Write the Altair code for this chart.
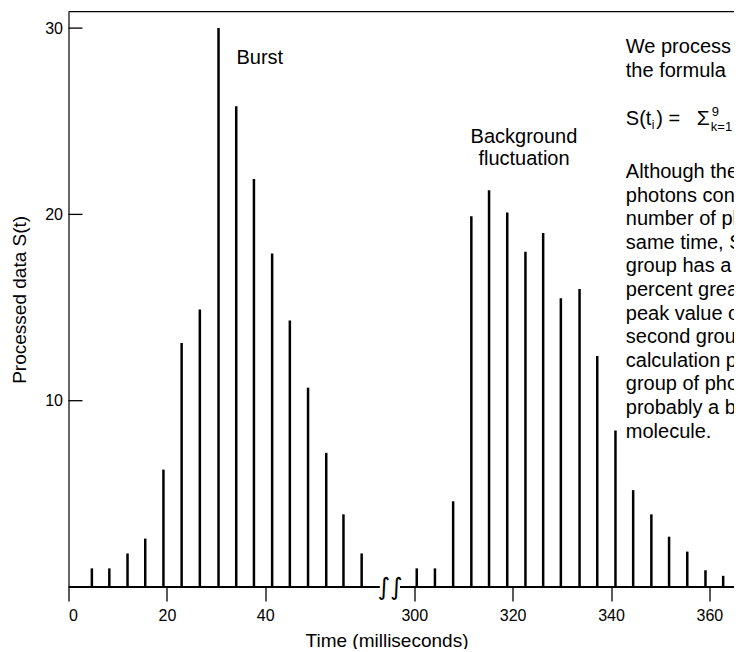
import altair as alt
import pandas as pd

# ---------------- data ----------------
burst_t = [4.75, 8.3, 12.0, 15.6, 19.3, 23.0, 26.7, 30.5, 34.1, 37.7, 41.4, 45.0, 48.7, 52.4, 55.9, 59.6]
burst_s = [1.0, 1.0, 1.8, 2.6, 6.3, 13.1, 14.9, 30.0, 25.8, 21.9, 17.9, 14.3, 10.7, 7.2, 3.9, 1.8]

bg_t = [300.5, 304.2, 307.9, 311.6, 315.2, 318.9, 322.6, 326.2, 329.8, 333.6,
        337.2, 340.9, 344.5, 348.2, 351.8, 355.5, 359.2, 362.8]
bg_s = [1.0, 1.0, 4.6, 19.9, 21.3, 20.1, 18.0, 19.0, 15.5, 16.0,
        12.4, 8.4, 5.2, 3.9, 2.7, 1.9, 0.9, 0.6]

x_tick_times = [0, 20, 40, 300, 320, 340, 360]
y_tick_values = [10, 20, 30]

# broken time axis: times after the break are shifted left by GAP_OFFSET
GAP_OFFSET = 229.7
LEFT_SEGMENT_END = 63.3     # ms, end of the first axis segment
RIGHT_SEGMENT_START = 297.1  # ms, start of the second axis segment
BREAK_AT = 295.1             # ms (shifted), position of the break symbol
X_MAX = 135.3                # display units visible
Y_MAX = 30.88

intro_lines = ["We process fluorescence data with", "the formula"]
body_lines = [
    "Although the two groups of",
    "photons consist of the same",
    "number of photons arriving at the",
    "same time, S(t) for the first",
    "group has a peak value 50",
    "percent greater than the",
    "peak value of S(t) for the",
    "second group. Thus the",
    "calculation picks out the first",
    "group of photons as",
    "probably a burst from a single",
    "molecule.",
]


def disp(t):
    return t if t < 200 else t - GAP_OFFSET


bars = pd.DataFrame({
    "d": [disp(t) for t in burst_t + bg_t],
    "s": burst_s + bg_s,
})

FONT = "Liberation Sans"

x_axis = alt.Axis(
    values=[disp(v) for v in x_tick_times],
    labelExpr=f"datum.value > 65 ? format(round(datum.value + {GAP_OFFSET}), 'd') : format(round(datum.value), 'd')",
    title="Time (milliseconds)",
    domain=False, grid=False,
    tickSize=14, tickWidth=1.3,
    labelFontSize=16, labelPadding=6,
    titleFontSize=19, titleX=318, titleAlign="center", titlePadding=8,
)
y_axis = alt.Axis(
    values=y_tick_values,
    title="Processed data S(t)",
    grid=False, ticks=False, domainWidth=1.2,
    labelFontSize=16, labelPadding=6,
    titleFontSize=19, titlePadding=15,
)

xs = alt.Scale(domain=[0, X_MAX], nice=False, zero=False)
ys = alt.Scale(domain=[0, Y_MAX], nice=False)


def X():
    return alt.X("d:Q", scale=xs, axis=x_axis)


def Y():
    return alt.Y("s:Q", scale=ys, axis=y_axis)


bar_layer = alt.Chart(bars).mark_rule(color="black", strokeWidth=2.5).encode(
    x=X(), y=Y(), y2=alt.datum(0),
)

ytick_layer = alt.Chart(pd.DataFrame({"s": y_tick_values})).mark_rule(
    color="black", strokeWidth=1.3
).encode(y=Y(), x=alt.value(0), x2=alt.value(14))

segments = pd.DataFrame({
    "d": [0, disp(RIGHT_SEGMENT_START)],
    "d2": [LEFT_SEGMENT_END, X_MAX],
})
base_layer = alt.Chart(segments).mark_rule(color="black", strokeWidth=2).encode(
    x=X(), x2="d2:Q", y=alt.datum(0)
)

top_layer = alt.Chart(pd.DataFrame({"d": [0], "d2": [X_MAX]})).mark_rule(
    color="black", strokeWidth=1.3
).encode(x=X(), x2="d2:Q", y=alt.datum(Y_MAX))

break_layer = alt.Chart(pd.DataFrame({"d": [disp(BREAK_AT)], "s": [0], "t": ["∫∫"]})).mark_text(
    font="DejaVu Sans", fontSize=24, color="black", baseline="middle", align="center", dy=1
).encode(x=X(), y=Y(), text="t:N")

ann = pd.DataFrame({
    "d": [disp(38.9), disp(322.3)],
    "s": [28.07, 23.84],
    "t": ["Burst", "Background\nfluctuation"],
})
ann_layer = alt.Chart(ann).mark_text(
    font=FONT, fontSize=20, color="black", align="center", baseline="alphabetic",
    lineBreak="\n", lineHeight=22.3
).encode(x=X(), y=Y(), text="t:N")

TEXT_T = 343.0
blocks = [
    (28.66, "\n".join(intro_lines), 24.0),
    (21.95, "\n".join(body_lines), 23.6),
]
block_layers = []
for s_val, txt, lh in blocks:
    block_layers.append(
        alt.Chart(pd.DataFrame({"d": [disp(TEXT_T)], "s": [s_val], "t": [txt]})).mark_text(
            font=FONT, fontSize=20, color="black", align="left", baseline="alphabetic",
            lineBreak="\n", lineHeight=lh, clip=True
        ).encode(x=X(), y=Y(), text="t:N")
    )

# formula S(t_i) = Σ_{k=1}^{9} N(t_{i+k})
formula_parts = [
    ("S(t", 20, 0, 0),
    ("i", 12, 26, 4),
    (")  =", 20, 30.5, 0),
    ("Σ", 21, 71, 0),
    ("9", 13, 86, -9),
    ("k=1 N(t", 13, 85, 6),
]
FORMULA_S = 24.82
formula_layers = []
for txt, fs, dx, dy in formula_parts:
    formula_layers.append(
        alt.Chart(pd.DataFrame({"d": [disp(TEXT_T)], "s": [FORMULA_S], "t": [txt]})).mark_text(
            font=FONT, fontSize=fs, color="black", align="left", baseline="alphabetic",
            dx=dx, dy=dy, clip=True
        ).encode(x=X(), y=Y(), text="t:N")
    )

chart = alt.layer(
    base_layer, top_layer, bar_layer, ytick_layer, break_layer, ann_layer,
    *block_layers, *formula_layers
).properties(
    width=665.5, height=575.3,
    autosize=alt.AutoSizeParams(type="none"),
    padding={"left": 60.5, "top": 3.7, "right": 0, "bottom": 62},
).configure_view(stroke=None).configure_axis(
    labelFont=FONT, titleFont=FONT, labelColor="black", titleColor="black",
    titleFontWeight="normal", domainColor="black", tickColor="black",
)

chart.save("out.html", embed_options={"renderer": "svg", "actions": False})
